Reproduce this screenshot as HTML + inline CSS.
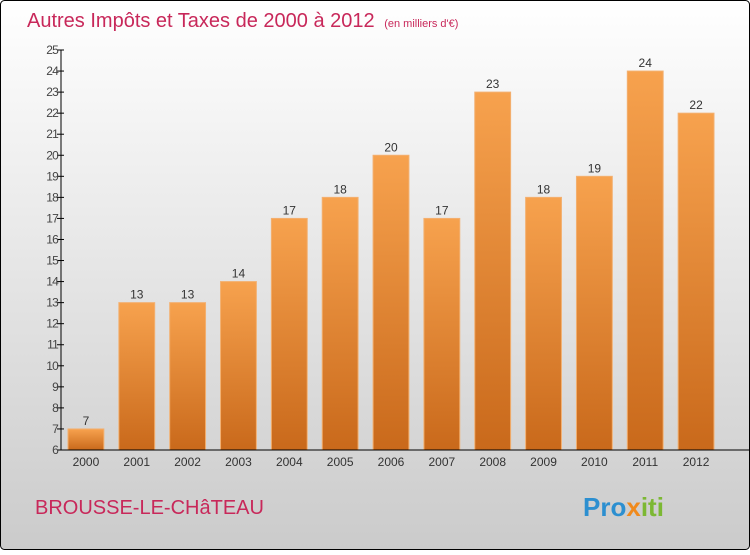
<!DOCTYPE html>
<html><head><meta charset="utf-8"><style>
html,body{margin:0;padding:0;}
body{width:750px;height:550px;overflow:hidden;font-family:"Liberation Sans",sans-serif;}
</style></head><body>
<svg width="750" height="550" xmlns="http://www.w3.org/2000/svg">
<defs>
<linearGradient id="bg" x1="0" y1="0" x2="0" y2="1"><stop offset="0" stop-color="#ffffff"/><stop offset="1" stop-color="#cbcbcb"/></linearGradient>
<linearGradient id="bar" x1="0" y1="0" x2="0" y2="1"><stop offset="0" stop-color="#f7a24e"/><stop offset="1" stop-color="#c9691b"/></linearGradient>
</defs>
<rect x="0.5" y="0.5" width="749" height="549" rx="4" fill="url(#bg)" stroke="#000"/>
<text x="27" y="27" font-size="20" fill="#c8285a">Autres Impôts et Taxes de 2000 à 2012 <tspan font-size="11" dx="4">(en milliers d'€)</tspan></text>
<g id="plot"></g>
<text x="35" y="514" font-size="20" fill="#c8285a">BROUSSE-LE-CHâTEAU</text>
<text x="583" y="516" font-size="26" font-weight="bold"><tspan fill="#2c8fd0">Pro</tspan><tspan fill="#f08a1c">x</tspan><tspan fill="#7cb833">iti</tspan></text>
</svg>
<script>
const years=["2000","2001","2002","2003","2004","2005","2006","2007","2008","2009","2010","2011","2012"];
const values=[7,13,13,14,17,18,20,17,23,18,19,24,22];
const yTicks=[6,7,8,9,10,11,12,13,14,15,16,17,18,19,20,21,22,23,24,25];
const NS="http://www.w3.org/2000/svg";
const g=document.getElementById('plot');
const x0=61,x1=722,yTop=50,yBot=450,yMin=6,yMax=25;
const band=(x1-x0)/years.length;
const y=v=>yBot-(v-yMin)/(yMax-yMin)*(yBot-yTop);
function mk(t,a){const e=document.createElementNS(NS,t);for(const k in a)e.setAttribute(k,a[k]);g.appendChild(e);return e;}
yTicks.forEach(v=>{
 const t=mk('line',{x1:x0-4,x2:x0+3,y1:y(v),y2:y(v),stroke:'#000'});
 
 
 const l=mk('text',{x:x0-3,y:y(v)+4,'font-size':12,'text-anchor':'end',fill:'#444','letter-spacing':'-0.8'});
 l.textContent=v;
 
 
});
values.forEach((v,i)=>{
 const bx=x0+i*band+7,bw=band-15;
 const r=mk('rect',{x:bx,y:y(v),width:bw,height:yBot-y(v),fill:'url(#bar)',stroke:'#f3b070','stroke-width':1});
 
 
 const vl=mk('text',{x:bx+bw/2,y:y(v)-4,'font-size':12,'text-anchor':'middle',fill:'#333'});
 vl.textContent=v;
 
 
 const xl=mk('text',{x:bx+bw/2,y:yBot+16,'font-size':12,'text-anchor':'middle',fill:'#333'});
 xl.textContent=years[i];
 
 
});
const ya=mk('line',{x1:x0,x2:x0,y1:yTop,y2:yBot,stroke:'#000'});


const xa=mk('line',{x1:x0,x2:749,y1:yBot,y2:yBot,stroke:'#000'});


</script>
</body></html>
